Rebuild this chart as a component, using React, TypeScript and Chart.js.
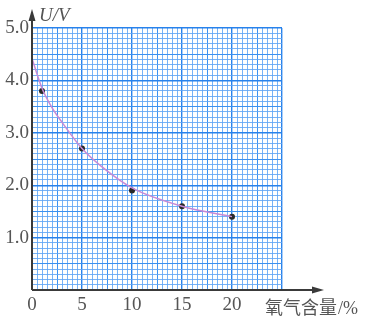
import React, { useEffect, useRef } from "react";
import { Chart, registerables } from "chart.js";

Chart.register(...registerables);

const oxygen = [1, 5, 10, 15, 20];
const voltage = [3.8, 2.7, 1.9, 1.6, 1.4];
const curveX = [0, 1, 2, 3, 5, 7, 10, 15, 20];
const curveY = [4.42, 3.85, 3.48, 3.2, 2.7, 2.35, 1.95, 1.6, 1.4];
const xTickLabels = [0, 5, 10, 15, 20];
const yTickLabels = [1, 2, 3, 4, 5];

const MAJOR = "rgba(40,130,235,1)";
const MEDIUM = "rgba(60,145,240,1)";
const MINOR = "rgba(95,165,245,0.85)";

const decor = {
  id: "decor",
  afterDraw(chart: any) {
    const ctx = chart.ctx;
    const a = chart.chartArea;
    ctx.save();
    ctx.strokeStyle = "#3a3a3a";
    ctx.fillStyle = "#3a3a3a";
    ctx.lineWidth = 2;
    // x axis
    ctx.beginPath();
    ctx.moveTo(a.left, a.bottom);
    ctx.lineTo(a.right + 34, a.bottom);
    ctx.stroke();
    ctx.beginPath();
    ctx.moveTo(a.right + 42, a.bottom);
    ctx.lineTo(a.right + 30, a.bottom - 3.5);
    ctx.lineTo(a.right + 30, a.bottom + 3.5);
    ctx.closePath();
    ctx.fill();
    // y axis
    ctx.beginPath();
    ctx.moveTo(a.left, a.bottom);
    ctx.lineTo(a.left, a.top - 10);
    ctx.stroke();
    ctx.beginPath();
    ctx.moveTo(a.left, a.top - 19);
    ctx.lineTo(a.left - 3.5, a.top - 7);
    ctx.lineTo(a.left + 3.5, a.top - 7);
    ctx.closePath();
    ctx.fill();
    // labels
    ctx.fillStyle = "#555";
    ctx.textBaseline = "alphabetic";
    ctx.textAlign = "left";
    ctx.font = "italic 19px 'Liberation Serif'";
    ctx.fillText("U/V", a.left + 7, a.top - 7);
    ctx.font = "18px 'Noto Sans CJK SC'";
    const cx = a.right - 17;
    ctx.fillText("氧气含量", cx, a.bottom + 24);
    const w = ctx.measureText("氧气含量").width;
    ctx.font = "18px 'Liberation Serif'";
    ctx.fillText("/%", cx + w + 1, a.bottom + 24);
    ctx.restore();
  },
};

function gridColor(v: number, major: number, medium: number) {
  const r = Math.round(v * 100);
  if (r % Math.round(major * 100) === 0) return MAJOR;
  if (r % Math.round(medium * 100) === 0) return MEDIUM;
  return MINOR;
}

export default function App() {
  const ref = useRef<HTMLCanvasElement>(null);
  useEffect(() => {
    const chart = new Chart(ref.current!, {
      type: "scatter",
      data: {
        datasets: [
          {
            type: "line",
            data: curveX.map((x, i) => ({ x, y: curveY[i] })),
            borderColor: "#c78ad6",
            borderWidth: 1.5,
            pointRadius: 0,
            cubicInterpolationMode: "monotone",
            fill: false,
          } as any,
          {
            data: oxygen.map((x, i) => ({ x, y: voltage[i] })),
            backgroundColor: "#2a2a2a",
            borderColor: "#2a2a2a",
            borderWidth: 0,
            pointRadius: 3,
          },
        ],
      },
      plugins: [decor],
      options: {
        animation: false,
        responsive: false,
        layout: { padding: { top: 28, right: 90, left: 0, bottom: 0 } },
        plugins: { legend: { display: false }, tooltip: { enabled: false } },
        scales: {
          x: {
            type: "linear",
            min: 0,
            max: 25,
            border: { display: false },
            afterFit: (s: any) => {
              s.height = 27;
            },
            afterBuildTicks: (s: any) => {
              const t = [];
              for (let i = 0; i <= 50; i++) t.push({ value: i * 0.5 });
              s.ticks = t;
            },
            grid: {
              drawTicks: false,
              lineWidth: (c: any) => (Math.round(c.tick.value * 100) % 500 === 0 ? 1.4 : 1),
              color: (c: any) => gridColor(c.tick.value, 5, 2.5),
            },
            ticks: {
              autoSkip: false,
              maxRotation: 0,
              padding: 4,
              color: "#555",
              font: { family: "'Liberation Serif'", size: 19 },
              callback: (v: any) => {
                const n = Math.round(Number(v) * 100) / 100;
                return xTickLabels.includes(n) ? String(n) : "";
              },
            },
          },
          y: {
            type: "linear",
            min: 0,
            max: 5,
            border: { display: false },
            afterFit: (s: any) => {
              s.width = 32;
            },
            afterBuildTicks: (s: any) => {
              const t = [];
              for (let i = 0; i <= 50; i++) t.push({ value: i * 0.1 });
              s.ticks = t;
            },
            grid: {
              drawTicks: false,
              lineWidth: (c: any) => (Math.round(c.tick.value * 100) % 100 === 0 ? 1.4 : 1),
              color: (c: any) => gridColor(c.tick.value, 1, 0.5),
            },
            ticks: {
              autoSkip: false,
              padding: 3,
              color: "#555",
              font: { family: "'Liberation Serif'", size: 19 },
              callback: (v: any) => {
                const n = Math.round(Number(v) * 100) / 100;
                return yTickLabels.includes(n) ? n.toFixed(1) : "";
              },
            },
          },
        },
      },
    });
    return () => chart.destroy();
  }, []);
  return (
    <div style={{ position: "fixed", left: 0, top: 0, width: 372, height: 317, background: "#fff" }}>
      <canvas ref={ref} width={372} height={317} />
    </div>
  );
}
